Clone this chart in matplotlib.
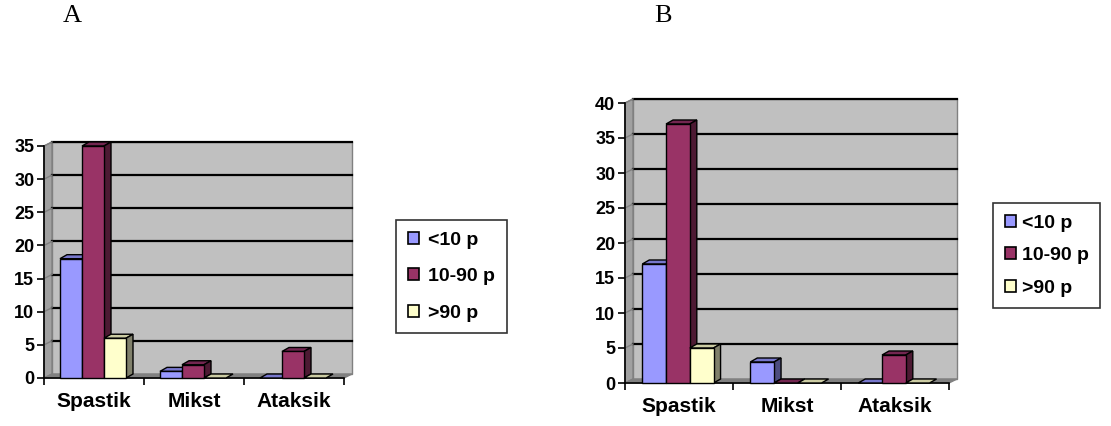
import numpy as np
import matplotlib.pyplot as plt
from matplotlib.patches import Polygon, Patch

categories = ['Spastik', 'Mikst', 'Ataksik']
series = ['<10 p', '10-90 p', '>90 p']
vals_a = [[18, 1, 0], [35, 2, 4], [6, 0, 0]]
vals_b = [[17, 3, 0], [37, 0, 4], [5, 0, 0]]

front = ['#9999FF', '#993366', '#FFFFCC']
top = ['#7777CC', '#732650', '#CCCCA3']
side = ['#4D4D80', '#4D1A33', '#80806B']

W, H = 1111, 426
fig = plt.figure(figsize=(W / 100, H / 100), dpi=100)
plt.rcParams['font.family'] = ['Liberation Sans', 'DejaVu Sans']


def panel(rect, vals, ymax, step, letter, letter_x, leg_xy, lspace, tpad):
    l, t, r, b = rect  # pixel box of the front axes
    ax = fig.add_axes([l / W, (H - b) / H, (r - l) / W, (b - t) / H])
    ax.set_xlim(-0.5, 2.5)
    ax.set_ylim(0, ymax)
    # depth offsets in data units
    ux = 3 / (r - l)
    uy = ymax / (b - t)
    wdx, wdy = 8 * ux, 4 * uy
    bdx, bdy = 7 * ux, 4 * uy

    # walls and floor
    ax.add_patch(Polygon([(-0.5 + wdx, wdy), (2.5 + wdx, wdy), (2.5 + wdx, ymax + wdy),
                          (-0.5 + wdx, ymax + wdy)], closed=True, fc='#C0C0C0',
                         ec='#808080', lw=1, clip_on=False, zorder=0))
    ax.add_patch(Polygon([(-0.5, 0), (-0.5, ymax), (-0.5 + wdx, ymax + wdy), (-0.5 + wdx, wdy)],
                         closed=True, fc='#A0A0A0', ec='#808080', lw=1, clip_on=False, zorder=0))
    ax.add_patch(Polygon([(-0.5, 0), (2.5, 0), (2.5 + wdx, wdy), (-0.5 + wdx, wdy)],
                         closed=True, fc='#808080', ec='#808080', lw=1, clip_on=False, zorder=0))
    for y in np.arange(step, ymax + 0.1, step):
        ax.plot([-0.5 + wdx, 2.5 + wdx], [y + wdy, y + wdy], color='black', lw=1.6,
                clip_on=False, zorder=1)
        ax.plot([-0.5, -0.5 + wdx], [y, y + wdy], color='#808080', lw=1, clip_on=False, zorder=1)

    # bars with a bit of depth
    bw = 0.22
    offs = [-0.23, -0.01, 0.21]
    for c in range(3):
        for s in range(3):
            x0 = c + offs[s] - bw / 2
            x1 = x0 + bw
            v = vals[s][c]
            ax.add_patch(Polygon([(x0, v), (x1, v), (x1 + bdx, v + bdy), (x0 + bdx, v + bdy)],
                                 closed=True, fc=top[s], ec='black', lw=1, clip_on=False, zorder=3))
            if v > 0:
                ax.add_patch(Polygon([(x1, 0), (x1 + bdx, bdy), (x1 + bdx, v + bdy), (x1, v)],
                                     closed=True, fc=side[s], ec='black', lw=1, clip_on=False, zorder=3))
                ax.bar(x0, v, width=bw, align='edge', color=front[s], edgecolor='black',
                       lw=1, zorder=3, clip_on=False)

    for sp in ['top', 'right']:
        ax.spines[sp].set_visible(False)
    ax.spines['left'].set_linewidth(1.2)
    ax.spines['bottom'].set_linewidth(1.2)
    ax.set_facecolor('none')
    ax.set_yticks(np.arange(0, ymax + 0.1, step))
    ax.tick_params(axis='y', direction='out', length=5, width=1.2, labelsize=13, pad=2)
    for lab in ax.get_yticklabels():
        lab.set_fontweight('bold')
    ax.set_xticks([-0.5, 0.5, 1.5, 2.5])
    ax.set_xticklabels([])
    ax.tick_params(axis='x', which='major', direction='out', length=5, width=1.2)
    ax.set_xticks([0, 1, 2], minor=True)
    ax.set_xticklabels(categories, minor=True, fontsize=15, fontweight='bold')
    ax.tick_params(axis='x', which='minor', length=0, pad=10)

    fig.text(letter_x / W, 1 - 16 / H, letter, fontsize=19, family='Liberation Serif',
             ha='center', va='center')

    handles = [Patch(fc=front[s], ec='black', lw=1.2) for s in range(3)]
    leg = fig.legend(handles, series, loc='upper left',
                     bbox_to_anchor=(leg_xy[0] / W, 1 - leg_xy[1] / H), frameon=True,
                     fancybox=False, prop={'weight': 'bold', 'size': 14}, handlelength=0.57,
                     handleheight=0.57, handletextpad=tpad, labelspacing=lspace,
                     borderpad=0.6, borderaxespad=0)
    leg.get_frame().set_edgecolor('black')
    leg.get_frame().set_linewidth(1.2)
    return ax


panel((44, 146, 344, 378), vals_a, 35, 5, 'A', 72, (396, 220), 1.0, 0.5)
panel((625, 103, 949, 383), vals_b, 40, 5, 'B', 663, (993, 203), 0.8, 0.3)

fig.savefig('out.png', dpi=100)
